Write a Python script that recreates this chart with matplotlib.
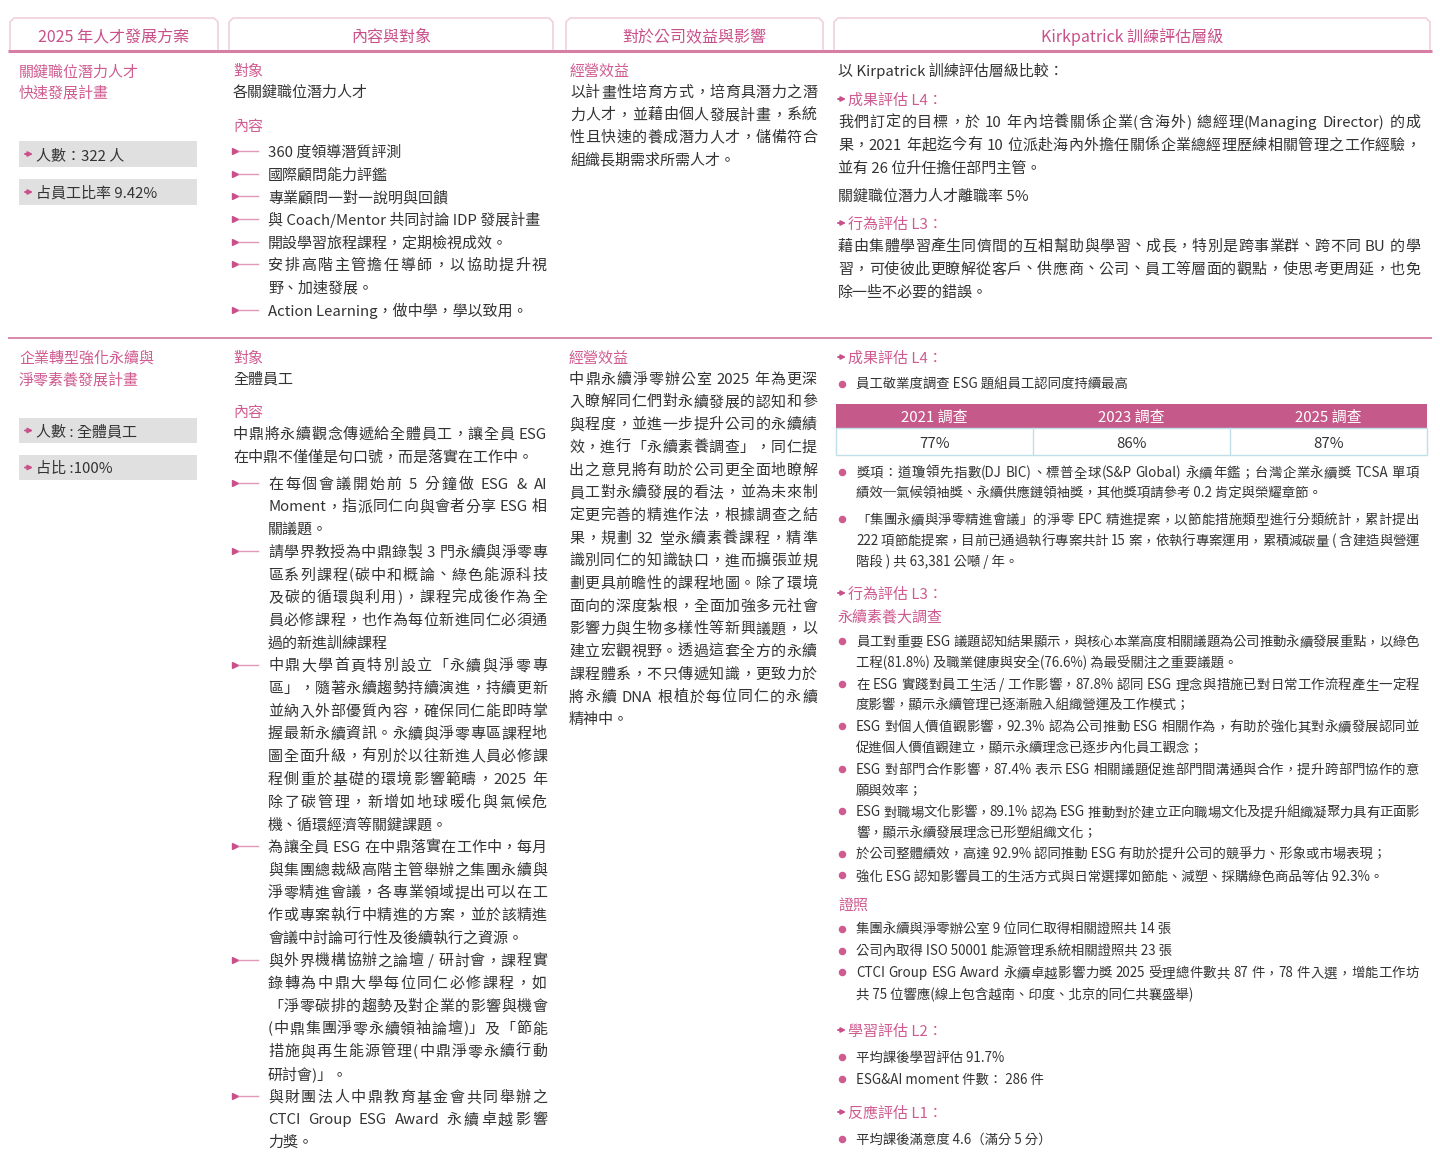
import re
import matplotlib
matplotlib.use('Agg')
import matplotlib.pyplot as plt
from matplotlib.font_manager import FontProperties
from matplotlib.patches import Rectangle

plt.rcParams['font.family'] = ['Noto Sans CJK TC', 'DejaVu Sans']

# ---------------- data (text content) ----------------
tab_titles = ['2025 年人才發展方案', '內容與對象', '對於公司效益與影響', 'Kirkpatrick 訓練評估層級']

p1_title = ['關鍵職位潛力人才', '快速發展計畫']
p1_stats = ['人數：322 人', '占員工比率 9.42%']
p1_target = ['各關鍵職位潛力人才']
p1_items = [
    ['360 度領導潛質評測'],
    ['國際顧問能力評鑑'],
    ['專業顧問一對一說明與回饋'],
    ['與 Coach/Mentor 共同討論 IDP 發展計畫'],
    ['開設學習旅程課程，定期檢視成效。'],
    ['安排高階主管擔任導師，以協助提升視', '野、加速發展。'],
    ['Action Learning，做中學，學以致用。'],
]
p1_benefit = ['以計畫性培育方式，培育具潛力之潛', '力人才，並藉由個人發展計畫，系統',
              '性且快速的養成潛力人才，儲備符合', '組織長期需求所需人才。']
p1_kp_intro = '以 Kirpatrick 訓練評估層級比較：'
p1_l4_head = '成果評估 L4：'
p1_l4 = ['我們訂定的目標，於 10 年內培養關係企業(含海外) 總經理(Managing Director) 的成',
         '果，2021 年起迄今有 10 位派赴海內外擔任關係企業總經理歷練相關管理之工作經驗，',
         '並有 26 位升任擔任部門主管。']
p1_turnover = '關鍵職位潛力人才離職率 5%'
p1_l3_head = '行為評估 L3：'
p1_l3 = ['藉由集體學習產生同儕間的互相幫助與學習、成長，特別是跨事業群、跨不同 BU 的學',
         '習，可使彼此更瞭解從客戶、供應商、公司、員工等層面的觀點，使思考更周延，也免',
         '除一些不必要的錯誤。']

p2_title = ['企業轉型強化永續與', '淨零素養發展計畫']
p2_stats = ['人數 : 全體員工', '占比 :100%']
p2_target = ['全體員工']
p2_intro = ['中鼎將永續觀念傳遞給全體員工，讓全員 ESG', '在中鼎不僅僅是句口號，而是落實在工作中。']
p2_items = [
    ['在每個會議開始前 5 分鐘做 ESG & AI', 'Moment，指派同仁向與會者分享 ESG 相', '關議題。'],
    ['請學界教授為中鼎錄製 3 門永續與淨零專', '區系列課程(碳中和概論、綠色能源科技', '及碳的循環與利用)，課程完成後作為全',
     '員必修課程，也作為每位新進同仁必須通', '過的新進訓練課程'],
    ['中鼎大學首頁特別設立「永續與淨零專', '區」，隨著永續趨勢持續演進，持續更新', '並納入外部優質內容，確保同仁能即時掌',
     '握最新永續資訊。永續與淨零專區課程地', '圖全面升級，有別於以往新進人員必修課', '程側重於基礎的環境影響範疇，2025 年',
     '除了碳管理，新增如地球暖化與氣候危', '機、循環經濟等關鍵課題。'],
    ['為讓全員 ESG 在中鼎落實在工作中，每月', '與集團總裁級高階主管舉辦之集團永續與', '淨零精進會議，各專業領域提出可以在工',
     '作或專案執行中精進的方案，並於該精進', '會議中討論可行性及後續執行之資源。'],
    ['與外界機構協辦之論壇 / 研討會，課程實', '錄轉為中鼎大學每位同仁必修課程，如', '「淨零碳排的趨勢及對企業的影響與機會',
     '(中鼎集團淨零永續領袖論壇)」及「節能', '措施與再生能源管理(中鼎淨零永續行動', '研討會)」。'],
    ['與財團法人中鼎教育基金會共同舉辦之', 'CTCI Group ESG Award 永續卓越影響', '力獎。'],
]
p2_benefit = ['中鼎永續淨零辦公室 2025 年為更深', '入瞭解同仁們對永續發展的認知和參', '與程度，並進一步提升公司的永續績',
              '效，進行「永續素養調查」，同仁提', '出之意見將有助於公司更全面地瞭解', '員工對永續發展的看法，並為未來制',
              '定更完善的精進作法，根據調查之結', '果，規劃 32 堂永續素養課程，精準', '識別同仁的知識缺口，進而擴張並規',
              '劃更具前瞻性的課程地圖。除了環境', '面向的深度紮根，全面加強多元社會', '影響力與生物多樣性等新興議題，以',
              '建立宏觀視野。透過這套全方的永續', '課程體系，不只傳遞知識，更致力於', '將永續 DNA 根植於每位同仁的永續', '精神中。']

p2_l4_head = '成果評估 L4：'
p2_l4_a = [['員工敬業度調查 ESG 題組員工認同度持續最高']]
survey_years = ['2021 調查', '2023 調查', '2025 調查']
survey_values = [77, 86, 87]
p2_l4_b = [
    ['獎項：道瓊領先指數(DJ BIC)、標普全球(S&P Global) 永續年鑑；台灣企業永續獎 TCSA 單項',
     '績效─氣候領袖獎、永續供應鏈領袖獎，其他獎項請參考 0.2 肯定與榮耀章節。'],
    ['「集團永續與淨零精進會議」的淨零 EPC 精進提案，以節能措施類型進行分類統計，累計提出',
     '222 項節能提案，目前已通過執行專案共計 15 案，依執行專案運用，累積減碳量 ( 含建造與營運',
     '階段 ) 共 63,381 公噸 / 年。'],
]
p2_l3_head = '行為評估 L3：'
p2_l3_sub = '永續素養大調查'
p2_l3_items = [
    ['員工對重要 ESG 議題認知結果顯示，與核心本業高度相關議題為公司推動永續發展重點，以綠色',
     '工程(81.8%) 及職業健康與安全(76.6%) 為最受關注之重要議題。'],
    ['在 ESG 實踐對員工生活 / 工作影響，87.8% 認同 ESG 理念與措施已對日常工作流程產生一定程',
     '度影響，顯示永續管理已逐漸融入組織營運及工作模式；'],
    ['ESG 對個人價值觀影響，92.3% 認為公司推動 ESG 相關作為，有助於強化其對永續發展認同並',
     '促進個人價值觀建立，顯示永續理念已逐步內化員工觀念；'],
    ['ESG 對部門合作影響，87.4% 表示 ESG 相關議題促進部門間溝通與合作，提升跨部門協作的意',
     '願與效率；'],
    ['ESG 對職場文化影響，89.1% 認為 ESG 推動對於建立正向職場文化及提升組織凝聚力具有正面影',
     '響，顯示永續發展理念已形塑組織文化；'],
    ['於公司整體績效，高達 92.9% 認同推動 ESG 有助於提升公司的競爭力、形象或市場表現；'],
    ['強化 ESG 認知影響員工的生活方式與日常選擇如節能、減塑、採購綠色商品等佔 92.3%。'],
]
p2_cert_head = '證照'
p2_cert_items = [
    ['集團永續與淨零辦公室 9 位同仁取得相關證照共 14 張'],
    ['公司內取得 ISO 50001 能源管理系統相關證照共 23 張'],
    ['CTCI Group ESG Award 永續卓越影響力獎 2025 受理總件數共 87 件，78 件入選，增能工作坊',
     '共 75 位響應(線上包含越南、印度、北京的同仁共襄盛舉)'],
]
p2_l2_head = '學習評估 L2：'
p2_l2_items = [['平均課後學習評估 91.7%'], ['ESG&AI moment 件數： 286 件']]
p2_l1_head = '反應評估 L1：'
p2_l1_items = [['平均課後滿意度 4.6（滿分 5 分）']]

# ---------------- styles ----------------
PINK = '#c9508a'
PINK_H = '#cf5b90'
LINE_PINK = '#d77ea4'
TAB_EDGE = '#f1cfdd'
TXT = '#333333'
GRAY_BOX = '#e0e0e0'
TBL_HEAD = '#c55a8a'
TBL_EDGE = '#bfe0e8'
FAMILY = ['Noto Sans CJK TC', 'DejaVu Sans']

W, H = 1440, 1169
fig = plt.figure(figsize=(W / 100, H / 100), dpi=100)
ax = fig.add_axes([0, 0, 1, 1])
ax.set_xlim(0, W)
ax.set_ylim(H, 0)
ax.axis('off')
renderer = fig.canvas.get_renderer()

_fp_cache = {}


def fprop(px):
    if px not in _fp_cache:
        _fp_cache[px] = FontProperties(family=FAMILY, size=px * 0.72)
    return _fp_cache[px]


def measure(s, px):
    w, h, d = renderer.get_text_width_height_descent(s, fprop(px), ismath=False)
    return w


_space = {}


def space_w(px):
    if px not in _space:
        _space[px] = measure('a a', px) - measure('aa', px)
    return _space[px]


TOK = re.compile(r"[A-Za-z0-9&%.,:/()'\-]+|\s|.")


def draw_line(x, yc, s, px, color, width=None):
    yb = yc + 0.38 * px
    if width is None:
        ax.text(x, yb, s, fontsize=px * 0.72, color=color, va='baseline', ha='left',
                fontfamily=FAMILY)
        return
    toks = TOK.findall(s)
    ws = [space_w(px) if t.isspace() else measure(t, px) for t in toks]
    nat = sum(ws)
    gaps = max(len(toks) - 1, 1)
    extra = (width - nat) / gaps
    cx = x
    for t, w in zip(toks, ws):
        if not t.isspace():
            ax.text(cx, yb, t, fontsize=px * 0.72, color=color, va='baseline', ha='left',
                    fontfamily=FAMILY)
        cx += w + extra


def para(x, y0, lines, px, color, width=None, pitch=22.7):
    for i, ln in enumerate(lines):
        j = width if (width is not None and i < len(lines) - 1) else None
        draw_line(x, y0 + i * pitch, ln, px, color, j)
    return y0 + len(lines) * pitch


def small_arrow(x, y, color=PINK):
    ax.annotate('', xy=(x + 8, y), xytext=(x, y),
                arrowprops=dict(arrowstyle='-|>', color=color, lw=1.4, mutation_scale=6.5,
                                shrinkA=0, shrinkB=0))


def tri_bullet(x, y):
    ax.plot([x + 2], [y], marker='>', ms=4.0, color=PINK, mec=PINK)
    ax.plot([x + 5, x + 25], [y, y], color=LINE_PINK, lw=1.0, alpha=0.8)


def dot_bullet(x, y):
    ax.plot([x], [y], marker='o', ms=4.4, color=PINK_H, mec=PINK_H)


# ---------------- header tabs ----------------
tab_x = [(10, 218), (229, 553), (566, 823), (834, 1430)]
for (x0, x1), t in zip(tab_x, tab_titles):
    ax.plot([x0, x0, x0 + 4, x1 - 4, x1, x1], [49, 22, 18, 18, 22, 49], color=TAB_EDGE, lw=1.2)
    ax.text((x0 + x1) / 2, 36 + 0.38 * 16, t, fontsize=16 * 0.72, color=PINK, ha='center',
            va='baseline', fontfamily=FAMILY)
ax.plot([8, 1432], [50.5, 50.5], color=LINE_PINK, lw=2.2, solid_capstyle='butt')
ax.plot([8, 1432], [338, 338], color=LINE_PINK, lw=1.3, solid_capstyle='butt')

BODY = 15
SMALL = 13.4

# ---------------- row 1 ----------------
para(19, 71, p1_title, BODY, PINK_H, pitch=21)
for yb0, s in zip([141, 179], p1_stats):
    ax.add_patch(Rectangle((19, yb0), 178, 26, facecolor=GRAY_BOX, edgecolor='none'))
    small_arrow(25, yb0 + 13)
    draw_line(36, yb0 + 13, s, BODY, TXT)

draw_line(233, 70, '對象', BODY, PINK_H)
para(233, 91, p1_target, BODY, TXT)
draw_line(233, 125, '內容', BODY, PINK_H)
y = 151
for item in p1_items:
    tri_bullet(233, y)
    y = para(268, y, item, BODY, TXT, width=279)

draw_line(570, 70, '經營效益', BODY, PINK_H)
para(570, 91, p1_benefit, BODY, TXT, width=247)

draw_line(838, 70, p1_kp_intro, BODY, TXT)
small_arrow(838, 99)
draw_line(848, 99, p1_l4_head, BODY, PINK_H)
para(838, 121, p1_l4, BODY, TXT, width=582, pitch=23)
draw_line(838, 195, p1_turnover, BODY, TXT)
small_arrow(838, 223)
draw_line(848, 223, p1_l3_head, BODY, PINK_H)
para(838, 245, p1_l3, BODY, TXT, width=582, pitch=23)

# ---------------- row 2 ----------------
para(19, 357, p2_title, BODY, PINK_H, pitch=22)
for yb0, s in zip([418, 455], p2_stats):
    ax.add_patch(Rectangle((19, yb0), 178, 25, facecolor=GRAY_BOX, edgecolor='none'))
    small_arrow(25, yb0 + 12.5)
    draw_line(36, yb0 + 12.5, s, BODY, TXT)

draw_line(233, 357, '對象', BODY, PINK_H)
para(233, 378, p2_target, BODY, TXT)
draw_line(233, 411, '內容', BODY, PINK_H)
para(233, 433, p2_intro, BODY, TXT, width=314, pitch=22.5)
y = 483
for item in p2_items:
    tri_bullet(233, y)
    y = para(268, y, item, BODY, TXT, width=279)

draw_line(569, 357, '經營效益', BODY, PINK_H)
para(569, 378, p2_benefit, BODY, TXT, width=248)

# column 4, row 2
small_arrow(838, 357)
draw_line(848, 357, p2_l4_head, BODY, PINK_H)
y = 384
for item in p2_l4_a:
    dot_bullet(842, y)
    y = para(856, y, item, SMALL, TXT, width=563, pitch=21)

# survey table
tx0, tx1 = 836, 1427
cw = (tx1 - tx0) / len(survey_years)
ax.add_patch(Rectangle((tx0, 404), tx1 - tx0, 24, facecolor=TBL_HEAD, edgecolor='none'))
ax.add_patch(Rectangle((tx0, 428), tx1 - tx0, 27, facecolor='white', edgecolor=TBL_EDGE, lw=1))
for i, (yr, v) in enumerate(zip(survey_years, survey_values)):
    cx = tx0 + cw * (i + 0.5)
    ax.text(cx, 416 + 0.38 * 15, yr, fontsize=15 * 0.72, color='white', ha='center',
            va='baseline', fontfamily=FAMILY, fontweight='medium')
    ax.text(cx, 442 + 0.38 * 15, f'{v}%', fontsize=15 * 0.72, color=TXT, ha='center',
            va='baseline', fontfamily=FAMILY)
    if i > 0:
        ax.plot([tx0 + cw * i] * 2, [428, 455], color=TBL_EDGE, lw=1)

y = 472
for item in p2_l4_b:
    dot_bullet(842, y)
    y = para(856, y, item, SMALL, TXT, width=563, pitch=21) + 5

small_arrow(838, 593)
draw_line(848, 593, p2_l3_head, BODY, PINK_H)
draw_line(838, 616, p2_l3_sub, BODY, PINK_H)
y = 641
for item in p2_l3_items:
    dot_bullet(842, y)
    y = para(856, y, item, SMALL, TXT, width=563, pitch=21.3)

draw_line(838, 904, p2_cert_head, BODY, PINK_H)
y = 929
for item in p2_cert_items:
    dot_bullet(842, y)
    y = para(856, y, item, SMALL, TXT, width=563, pitch=21.6)

small_arrow(838, 1030)
draw_line(848, 1030, p2_l2_head, BODY, PINK_H)
y = 1057
for item in p2_l2_items:
    dot_bullet(842, y)
    y = para(856, y, item, SMALL, TXT, width=563, pitch=22)

small_arrow(838, 1112)
draw_line(848, 1112, p2_l1_head, BODY, PINK_H)
y = 1139
for item in p2_l1_items:
    dot_bullet(842, y)
    y = para(856, y, item, SMALL, TXT, width=563, pitch=22)

fig.savefig('out.png', dpi=100, facecolor='white')
